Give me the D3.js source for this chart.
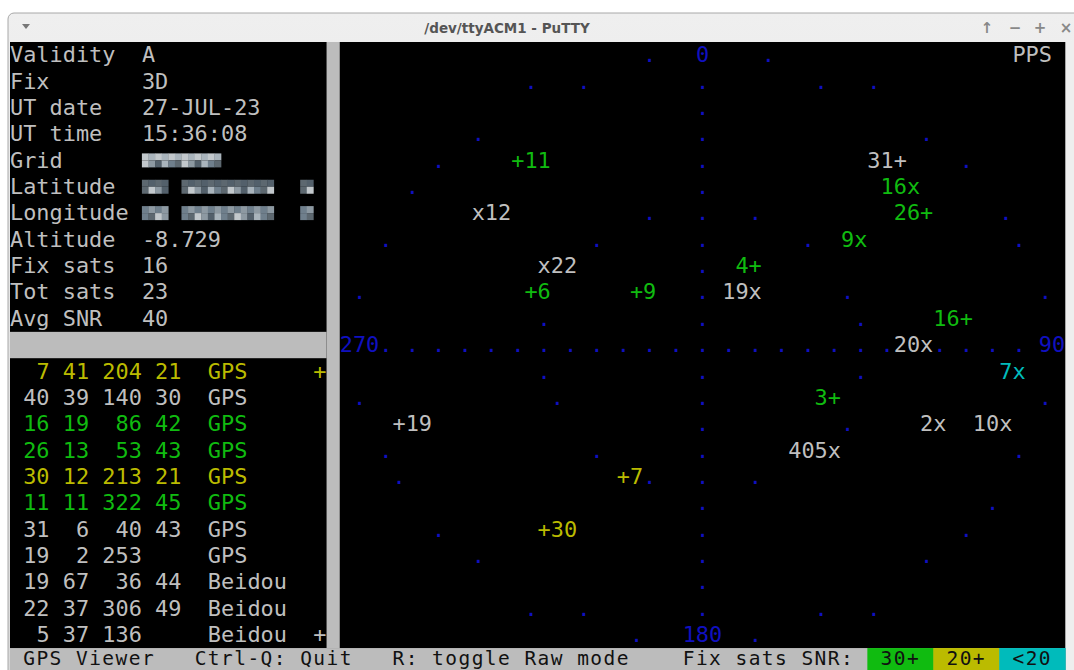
<!DOCTYPE html>
<html><head><meta charset="utf-8">
<script src="https://cdn.jsdelivr.net/npm/d3@7"></script>
<style>html,body{margin:0;padding:0;background:#fff;overflow:hidden}</style>
</head><body><svg id="c" width="1074" height="670"></svg>
<script>
// ---------------- DATA ----------------
const infoLabels = ["Validity","Fix","UT date","UT time","Grid","Latitude","Longitude","Altitude","Fix sats","Tot sats","Avg SNR"];
const infoValues = ["A","3D","27-JUL-23","15:36:08",null,null,null,"-8.729","16","23","40"];
// satellites: first 11 are listed in the table, the rest appear only on the sky plot
const satPrn  = [7, 40, 16, 26, 30, 11, 31, 19, 19, 22, 5,   4, 6, 9, 3, 16, 12, 9, 20, 7, 2, 10];
const satSys  = ["GPS","GPS","GPS","GPS","GPS","GPS","GPS","GPS","Beidou","Beidou","Beidou",
                 "GPS","GPS","GPS","GPS","Beidou","Beidou","Beidou","Beidou","Beidou","Beidou","Beidou"];
const satEl   = [41, 39, 19, 13, 12, 11, 6, 2, 67, 37, 37,   59, 40, 65, 50, 11, 14, 34, 29, 3, 20, 3];
const satAz   = [204, 140, 86, 53, 213, 322, 40, 253, 36, 306, 136,   28, 291, 315, 117, 47, 306, 50, 90, 96, 113, 108];
const satSnr  = [21, 30, 42, 43, 21, 45, 43, null, 44, 49, null,   45, 40, 44, 41, 36, null, 40, null, 15, null, null];
const satUsed = [1, 0, 1, 1, 1, 1, 0, 0, 0, 0, 0,   1, 1, 1, 1, 1, 0, 1, 0, 1, 0, 0];
const tableCount = 11;
const compassAz = [0, 90, 180, 270];
const compassText = ["0", "90", "180", "270"];
const snrBreaks = [20, 30];
const legendText = ["30+", "20+", "<20"];
const statusText = ["GPS Viewer", "Ctrl-Q: Quit", "R: toggle Raw mode", "Fix sats SNR:"];
const ppsText = "PPS";
const titleText = "/dev/ttyACM1 - PuTTY";

// ---------------- LAYOUT ----------------
const COLS = 80, ROWS = 24;
const col = d3.scaleLinear().domain([0, COLS]).range([10, 1065.2]);
const row = d3.scaleLinear().domain([0, ROWS]).range([42, 42 + 24 * 26.35]);
const CW = col(1) - col(0), CH = row(1) - row(0);
const BASE = 20.3;
const FONT = "'DejaVu Sans Mono', 'Liberation Mono', monospace";
const FS = 21.9;
const C = {white:"#bfbfbf", green:"#10bb10", yellow:"#bbbb00", cyan:"#00bbbb", blue:"#1010c0", gray:"#bcbcbc", black:"#000"};
const snrColor = d3.scaleThreshold().domain(snrBreaks).range([C.cyan, C.yellow, C.green]);
const satColor = i => satUsed[i] ? snrColor(satSnr[i] ?? 0) : C.white;

const svg = d3.select("#c");

// window chrome
const defs = svg.append("defs");
const g1 = defs.append("linearGradient").attr("id","tb").attr("x1",0).attr("y1",0).attr("x2",0).attr("y2",1);
g1.append("stop").attr("offset",0).attr("stop-color","#efefef");
g1.append("stop").attr("offset",1).attr("stop-color","#d9d9d9");
svg.append("rect").attr("x",8).attr("y",13).attr("width",1075).attr("height",680).attr("rx",6)
  .attr("fill","url(#tb)").attr("stroke","#a8a8a8");
svg.append("rect").attr("x",1065).attr("y",42).attr("width",9).attr("height",628).attr("fill","#eeeeee");
svg.append("line").attr("x1",1065.5).attr("x2",1065.5).attr("y1",42).attr("y2",670).attr("stroke","#d0d0d0");
svg.append("text").attr("x",507).attr("y",33).attr("text-anchor","middle")
  .attr("font-family","'DejaVu Sans', sans-serif").attr("font-weight","bold").attr("font-size",13.5)
  .attr("fill","#555").text(titleText);
svg.append("path").attr("d","M22,24 L30,24 L26,29 Z").attr("fill","#777");
svg.append("g").selectAll("text").data(["↑","−","+","×"]).join("text")
  .attr("x",(d,i)=>[987,1015,1040,1066][i]).attr("y",33).attr("text-anchor","middle")
  .attr("font-family","'DejaVu Sans', sans-serif").attr("font-weight","bold").attr("font-size",15)
  .attr("fill","#888").text(d=>d);

// terminal background
svg.append("rect").attr("x",col(0)).attr("y",row(0)).attr("width",col(COLS)-col(0)).attr("height",670-row(0)).attr("fill",C.black);

const term = svg.append("g").attr("font-family",FONT).attr("font-size",FS);
function put(c, r, s, fill){
  return term.append("text").attr("x",col(c)).attr("y",row(r)+BASE).attr("fill",fill).text(s);
}
// right-aligned field of width n starting at column c
function field(c, r, v, n, fill){
  if (v === null || v === undefined) return;
  const s = String(v);
  put(c + n - s.length, r, s, fill);
}

// gray separators
term.append("rect").attr("x",col(24)).attr("y",row(0)).attr("width",CW).attr("height",row(23)-row(0)).attr("fill",C.gray);
term.append("rect").attr("x",col(0)).attr("y",row(11)).attr("width",col(24)-col(0)).attr("height",CH).attr("fill",C.gray);

// info panel
infoLabels.forEach((l,i)=>{
  put(0, i, l, C.white);
  if (infoValues[i] !== null) put(10, i, infoValues[i], C.white);
});
// pixelated (obscured) values
const blur = [[4,[[10,16]]],[5,[[10,12],[13,20],[22,23]]],[6,[[10,12],[13,20],[22,23]]]];
const shades = ["#6f7f8c","#a9b4bc","#53606b","#8d99a2","#c2c8cc","#5d6870"];
blur.forEach(([r, segs])=>{
  segs.forEach(([a,b])=>{
    d3.range(a*2, b*2).forEach(k=>{
      term.append("rect").attr("x",col(k/2)).attr("y",row(r)+6).attr("width",CW/2+0.3).attr("height",7)
        .attr("fill",shades[(k*3+r)%shades.length]);
      term.append("rect").attr("x",col(k/2)).attr("y",row(r)+13).attr("width",CW/2+0.3).attr("height",7)
        .attr("fill",shades[(k*5+r+2)%shades.length]);
    });
  });
});

// satellite table
d3.range(tableCount).forEach(i=>{
  const r = 12 + i, f = satColor(i);
  field(1, r, satPrn[i], 2, f);
  field(4, r, satEl[i], 2, f);
  field(7, r, satAz[i], 3, f);
  field(11, r, satSnr[i], 2, f);
  put(15, r, satSys[i], f);
  if (i===0 || i===tableCount-1) put(23, r, "+", f);
});

// ---------------- sky plot (character grid) ----------------
const CX = 52, CY = 11, RX = 25, RY = 10;
const rScale = d3.scaleLinear().domain([90, 0]).range([0, 1]);
function skyCell(el, az, extra, tweak){
  const r = rScale(el), a = (az + (tweak||0)) * Math.PI/180;
  return [CX + Math.round((RX*r + extra) * Math.sin(a)), CY + Math.round(-(RY*r + extra) * Math.cos(a))];
}
const grid = new Map();
const setCell = (c, r, ch, color, dot) => grid.set(c+","+r, {c, r, ch, color, dot});
const writeStr = (c, r, s, color) => [...s].forEach((ch,k)=>setCell(c+k, r, ch, color, false));

d3.range(10, 360, 10).filter(a=>a%90!==0).forEach(a=>{ const [c,r]=skyCell(0, a, 1, 0.1); setCell(c,r,".",C.blue,true); });
d3.range(0, 360, 20).forEach(a=>{ const [c,r]=skyCell(45, a, 0, 0.1); setCell(c,r,".",C.blue,true); });
d3.range(CY-RY, CY+RY+1).filter(r=>r!==CY).forEach(r=>setCell(CX, r, ".", C.blue, true));
d3.range(CX-24, CX+25, 2).forEach(c=>setCell(c, CY, ".", C.blue, true));

compassAz.forEach((a,i)=>{
  const [c,r] = skyCell(0, a, 1, 0);
  const t = compassText[i];
  writeStr(c - Math.floor((t.length-1)/2), r, t, C.blue);
});
writeStr(76, 0, ppsText, C.white);

satPrn.forEach((p,i)=>{
  const [c,r] = skyCell(satEl[i], satAz[i], 0, 0);
  const mk = satSys[i]==="GPS" ? "+" : "x";
  const east = satAz[i] < 180;
  writeStr(east ? c - String(p).length : c, r, east ? p + mk : mk + p, satColor(i));
});

// merge consecutive same-colour characters into text runs
const runs = [];
d3.range(ROWS).forEach(r=>{
  const cells = [...grid.values()].filter(d=>d.r===r).sort((a,b)=>a.c-b.c);
  cells.forEach(d=>{
    const last = runs[runs.length-1];
    if (last && last.r===r && !d.dot && !last.dot && last.color===d.color && last.c+last.s.length===d.c) last.s += d.ch;
    else runs.push({c:d.c, r, s:d.ch, color:d.color, dot:d.dot});
  });
});
term.append("g").selectAll("text").data(runs).join("text")
  .attr("x",d=>col(d.c)).attr("y",d=>row(d.r)+BASE).attr("fill",d=>d.color).text(d=>d.s);

// status bar (slightly smaller glyphs on the same character grid so it fits the clipped last row)
const SFS = 19.5, SLS = CW - SFS*0.6021;
term.append("rect").attr("x",col(0)).attr("y",row(23)).attr("width",col(COLS)-col(0)).attr("height",CH).attr("fill",C.gray);
const statusCols = [1, 14, 29, 51];
const putStatus = (c, t) => term.append("text").attr("x",col(c)).attr("y",665.2)
  .attr("font-size",SFS).attr("letter-spacing",SLS).attr("fill","#111").text(t);
statusText.forEach((t,i)=>putStatus(statusCols[i], t));
const legendFill = [C.green, C.yellow, C.cyan];
legendText.forEach((t,i)=>{
  term.append("rect").attr("x",col(65+i*5)).attr("y",row(23)).attr("width",CW*5+0.5).attr("height",CH).attr("fill",legendFill[i]);
  putStatus(66 + i*5, t);
});
</script></body></html>
